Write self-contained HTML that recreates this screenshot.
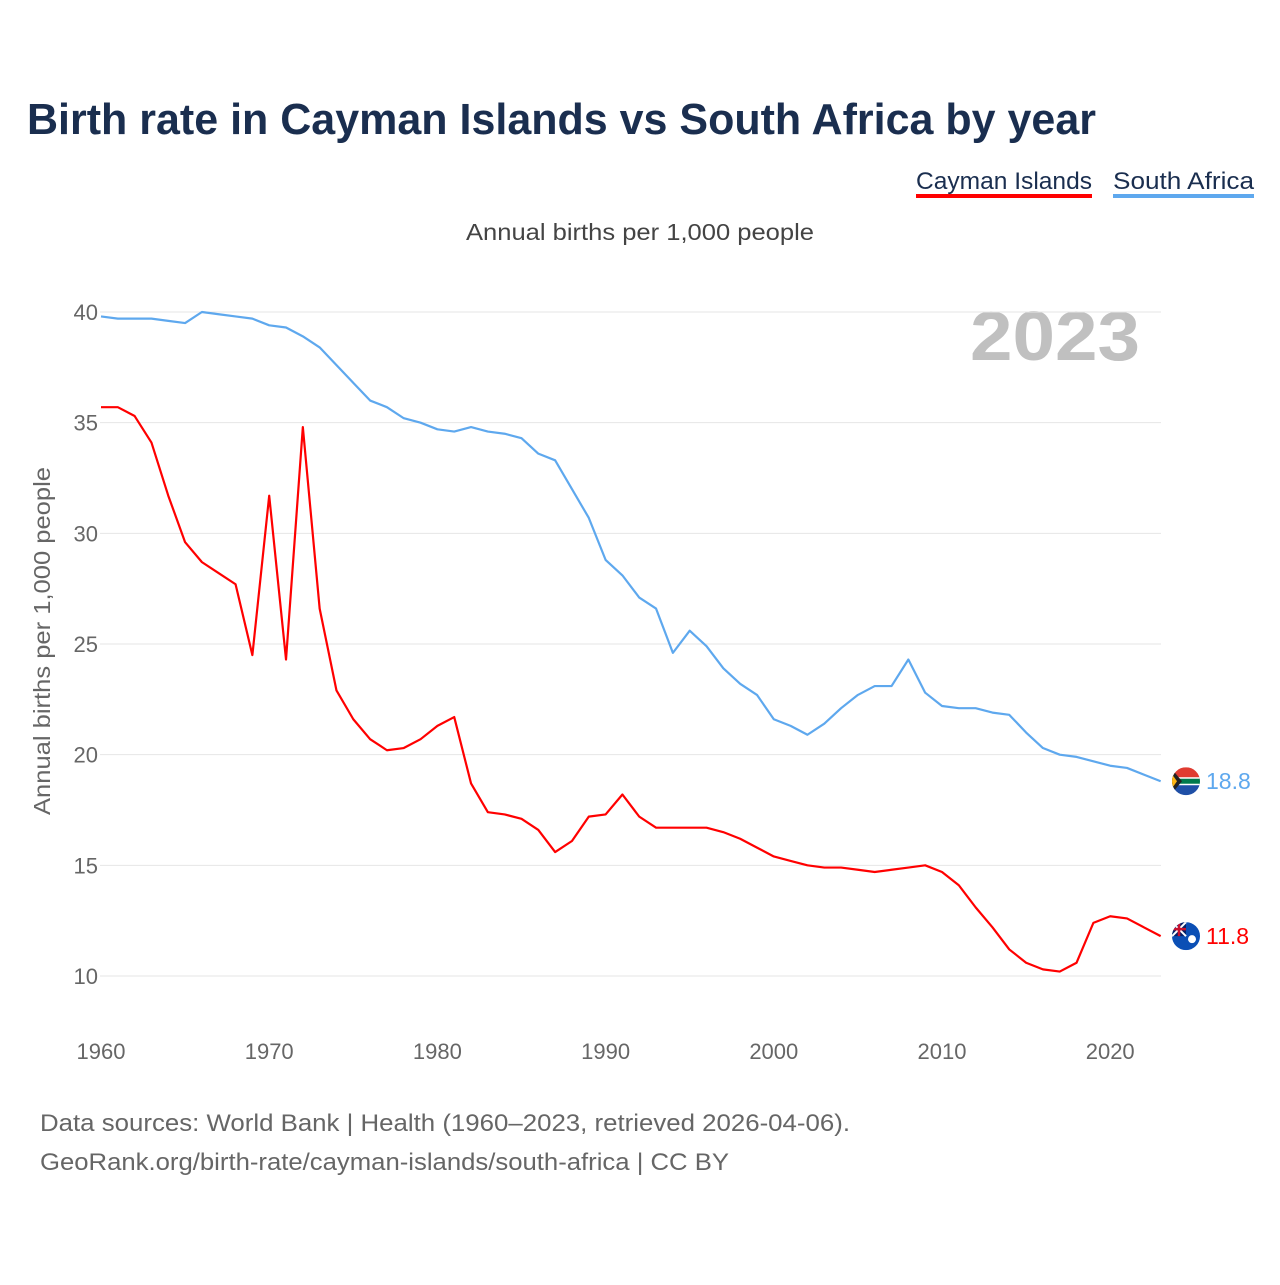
<!DOCTYPE html>
<html><head><meta charset="utf-8"><style>
body{margin:0;background:#fff;width:1280px;height:1280px;overflow:hidden;font-family:"Liberation Sans",sans-serif}
</style></head><body>
<svg width="1280" height="1280" style="font-family:'Liberation Sans',sans-serif">
<text x="27" y="134" font-size="44" font-weight="bold" fill="#1a2e4f" textLength="1069" lengthAdjust="spacingAndGlyphs">Birth rate in Cayman Islands vs South Africa by year</text>
<g>
<text x="916" y="189" font-size="24" fill="#1a2e4f" textLength="176" lengthAdjust="spacingAndGlyphs">Cayman Islands</text>
<rect x="916" y="194" width="176" height="4" fill="#ff0000"/>
<text x="1113" y="189" font-size="24" fill="#1a2e4f" textLength="141" lengthAdjust="spacingAndGlyphs">South Africa</text>
<rect x="1113" y="194" width="141" height="4" fill="#5ea8ee"/>
</g>
<text x="466" y="240" font-size="23" fill="#444" textLength="348" lengthAdjust="spacingAndGlyphs">Annual births per 1,000 people</text>
<text x="970" y="360" font-size="70" font-weight="bold" fill="#c0c0c0" textLength="170" lengthAdjust="spacingAndGlyphs">2023</text>
<text transform="translate(50,815) rotate(-90)" font-size="23" fill="#666" textLength="348" lengthAdjust="spacingAndGlyphs">Annual births per 1,000 people</text>
<g id="grid"></g><g id="yt"></g><g id="xt"></g><g id="lines"></g><g id="ends"></g>
<text x="40" y="1131" font-size="24" fill="#666" textLength="810" lengthAdjust="spacingAndGlyphs">Data sources: World Bank | Health (1960–2023, retrieved 2026-04-06).</text>
<text x="40" y="1170" font-size="24" fill="#666" textLength="689" lengthAdjust="spacingAndGlyphs">GeoRank.org/birth-rate/cayman-islands/south-africa | CC BY</text>
</svg>
<script>
const years=[];for(let y=1960;y<=2023;y++)years.push(y);
const southAfrica=[39.8,39.7,39.7,39.7,39.6,39.5,40.0,39.9,39.8,39.7,39.4,39.3,38.9,38.4,37.6,36.8,36.0,35.7,35.2,35.0,34.7,34.6,34.8,34.6,34.5,34.3,33.6,33.3,32.0,30.7,28.8,28.1,27.1,26.6,24.6,25.6,24.9,23.9,23.2,22.7,21.6,21.3,20.9,21.4,22.1,22.7,23.1,23.1,24.3,22.8,22.2,22.1,22.1,21.9,21.8,21.0,20.3,20.0,19.9,19.7,19.5,19.4,19.1,18.8];
const cayman=[35.7,35.7,35.3,34.1,31.7,29.6,28.7,28.2,27.7,24.5,31.7,24.3,34.8,26.6,22.9,21.6,20.7,20.2,20.3,20.7,21.3,21.7,18.7,17.4,17.3,17.1,16.6,15.6,16.1,17.2,17.3,18.2,17.2,16.7,16.7,16.7,16.7,16.5,16.2,15.8,15.4,15.2,15.0,14.9,14.9,14.8,14.7,14.8,14.9,15.0,14.7,14.1,13.1,12.2,11.2,10.6,10.3,10.2,10.6,12.4,12.7,12.6,12.2,11.8];
const yTicks=[10,15,20,25,30,35,40];
const xTicks=[1960,1970,1980,1990,2000,2010,2020];
const NS='http://www.w3.org/2000/svg';
const X=y=>101+(y-1960)*16.82, Y=v=>976-(v-10)*22.133;
function mk(t,a,p){const e=document.createElementNS(NS,t);for(const k in a)e.setAttribute(k,a[k]);p.appendChild(e);return e;}
const g=document.getElementById('grid'),yt=document.getElementById('yt'),xt=document.getElementById('xt');
yTicks.forEach(v=>{const l=mk('line',{x1:100,x2:1161,y1:Y(v),y2:Y(v),stroke:'#e6e6e6'},g);


const t=mk('text',{x:98,y:Y(v)+8,'font-size':22,fill:'#666','text-anchor':'end'},yt);t.textContent=v;

});
xTicks.forEach(v=>{const t=mk('text',{x:X(v),y:1059,'font-size':22,fill:'#666','text-anchor':'middle'},xt);t.textContent=v;

});
const L=document.getElementById('lines');
[[southAfrica,'#5ea8ee','south-africa-line'],[cayman,'#ff0000','cayman-line']].forEach(([d,c,n])=>{
const p=mk('polyline',{points:d.map((v,i)=>X(years[i])+','+Y(v)).join(' '),fill:'none',stroke:c,'stroke-width':2.2,'stroke-linejoin':'round'},L);

});
const E=document.getElementById('ends');
const defs=mk('defs',{},E);
[[southAfrica,'#5ea8ee','south-africa'],[cayman,'#ff0000','cayman']].forEach(([d,c,n])=>{
const v=d[d.length-1],cy=Y(v);
const cp=mk('clipPath',{id:'clip-'+n},defs);mk('circle',{cx:1186,cy:cy,r:14},cp);
const fg=mk('g',{'clip-path':'url(#clip-'+n+')'},E);


if(n==='south-africa'){
mk('rect',{x:1172,y:cy-14,width:28,height:14,fill:'#e03c31'},fg);
mk('rect',{x:1172,y:cy,width:28,height:14,fill:'#1f4fa6'},fg);
mk('rect',{x:1172,y:cy-4,width:28,height:8,fill:'#fff'},fg);
mk('rect',{x:1172,y:cy-2.5,width:28,height:5,fill:'#007a4d'},fg);
mk('polygon',{points:`1172,${cy-12} 1182,${cy} 1172,${cy+12}`,fill:'#222'},fg);
mk('polygon',{points:`1172,${cy-7} 1177,${cy} 1172,${cy+7}`,fill:'#ffb612'},fg);
}else{
mk('rect',{x:1172,y:cy-14,width:28,height:28,fill:'#0b4fb5'},fg);
mk('rect',{x:1172,y:cy-14,width:14,height:14,fill:'#012169'},fg);
mk('path',{d:`M1172 ${cy-14}L1186 ${cy}M1186 ${cy-14}L1172 ${cy}`,stroke:'#fff','stroke-width':2},fg);
mk('path',{d:`M1179 ${cy-14}V${cy}M1172 ${cy-7}H1186`,stroke:'#c8102e','stroke-width':2.5},fg);
mk('circle',{cx:1192,cy:cy+3,r:4,fill:'#fff'},fg);
}
const t=mk('text',{x:1206,y:cy+8,'font-size':23,fill:c},E);t.textContent=v.toFixed(1);

});
</script>
</body></html>
